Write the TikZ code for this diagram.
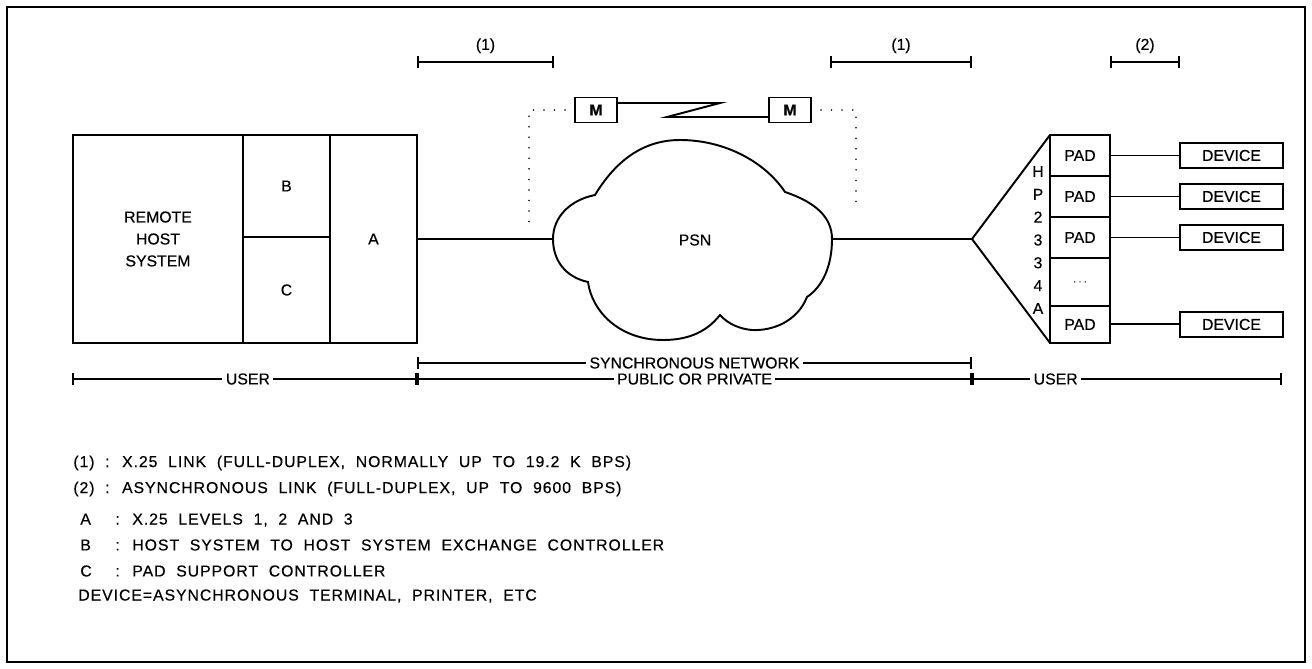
\documentclass[tikz,border=0pt]{standalone}
\usepackage{fontspec}
\setmainfont{Liberation Sans}[FakeBold=0.4]
\newfontfamily\notefont{Liberation Sans}[LetterSpace=6.0, WordSpace=2.0, FakeBold=0.4]
\usetikzlibrary{positioning, arrows.meta, calc}

\begin{document}
\begin{tikzpicture}[x=0.02cm, y=-0.02cm,
    every node/.style={font=\fontsize{9}{12.5}\selectfont},
    box/.style={draw, line width=1.1pt, inner sep=0pt, outer sep=0pt, align=center},
    padbox/.style={box, minimum width=1.2cm},
    devbox/.style={box, minimum width=2.06cm, minimum height=0.5cm},
    modem/.style={box, minimum width=0.84cm, minimum height=0.5cm, font=\fontsize{9}{10}\selectfont\bfseries},
    link/.style={line width=1.1pt},
    span/.style={line width=1.1pt, {Bar[width=7pt]}-{Bar[width=7pt]}},
    spanlbl/.style={fill=white, inner xsep=2pt, inner ysep=0pt},
    dots/.style={line width=1pt, line cap=round, dash pattern=on 0pt off 6pt},
    note/.style={anchor=west, inner sep=0pt, font=\notefont\fontsize{9}{11}\selectfont}
]
\useasboundingbox (0,0) rectangle (1312,669);
\draw[line width=1.1pt] (7,7) rectangle (1305,662);

% Host side
\node[box, minimum width=3.4cm, minimum height=4.16cm] (host) at (158,239) {REMOTE\\HOST\\SYSTEM};
\node[box, minimum width=1.74cm, minimum height=2.04cm, anchor=north west] (ctlb) at (host.north east) {B};
\node[box, minimum width=1.74cm, minimum height=2.12cm, below=0pt of ctlb] (ctlc) {C};
\node[box, minimum width=1.74cm, minimum height=4.16cm, anchor=north west] (lvla) at (ctlb.north east) {A};

% Modems
\node[modem] (mdm1) at (596,110) {M};
\node[modem] (mdm2) at (790,110) {M};
\draw[link] ($(mdm1.east)+(0,-7)$) -- (720,103) -- (667,117) -- ($(mdm2.west)+(0,7)$);
\draw[dots] ($(mdm1.west)+(-10,0)$) -- (529,110) -- (529,228);
\draw[dots] ($(mdm2.east)+(10,0)$) -- (856,110) -- (856,212);

% PSN cloud
\coordinate (cw) at (553,239);
\coordinate (ce) at (832,239);
\draw[link] (cw) .. controls (553,217) and (570,200) .. (595,195)
  .. controls (615,162) and (642,140) .. (680,140)
  .. controls (725,140) and (765,162) .. (785,192)
  .. controls (815,202) and (832,217) .. (ce)
  .. controls (832,267) and (822,287) .. (807,297)
  .. controls (797,322) and (772,331) .. (752,330)
  .. controls (740,329) and (728,324) .. (720,315)
  .. controls (705,334) and (685,340) .. (663,340)
  .. controls (620,340) and (592,312) .. (588,282)
  .. controls (565,277) and (553,260) .. (cw);
\node (psn) at (695,240) {PSN};

% HP2334A
\node[padbox, minimum height=0.82cm, anchor=north west] (pad1) at (1050,135) {PAD};
\node[padbox, minimum height=0.82cm, below=0pt of pad1] (pad2) {PAD};
\node[padbox, minimum height=0.82cm, below=0pt of pad2] (pad3) {PAD};
\node[padbox, minimum height=0.96cm, below=0pt of pad3, font=\fontsize{5}{5}\selectfont] (padx) {.\,\,.\,\,.};
\node[padbox, minimum height=0.74cm, below=0pt of padx] (pad4) {PAD};
\coordinate (apex) at (972,239);
\draw[link] (pad1.north west) -- (apex) -- (pad4.south west);
\node[inner sep=0pt, align=center, font=\fontsize{9}{13}\selectfont] (hpname) at (1038,240) {H\\P\\2\\3\\3\\4\\A};

\node[devbox, right=1.4cm of pad1] (dev1) {DEVICE};
\node[devbox, right=1.4cm of pad2] (dev2) {DEVICE};
\node[devbox, right=1.4cm of pad3] (dev3) {DEVICE};
\node[devbox, right=1.4cm of pad4] (dev4) {DEVICE};

\draw[link] (lvla.east) -- (cw);
\draw[link] (ce) -- (apex);
\draw[link] (pad1) -- (dev1);
\draw[link] (pad2) -- (dev2);
\draw[link] (pad3) -- (dev3);
\draw[link] (pad4) -- (dev4);

% Link spans
\coordinate (lk1a) at (417,62);
\coordinate (lk1b) at (554,62);
\coordinate (lk2a) at (830,62);
\coordinate (lk2b) at (972,62);
\coordinate (lk3a) at (1110,62);
\coordinate (lk3b) at (1180,62);
\draw[span] (lk1a) -- node[above=4.5pt, inner sep=0pt] (lk1lbl) {(1)} (lk1b);
\draw[span] (lk2a) -- node[above=4.5pt, inner sep=0pt] (lk2lbl) {(1)} (lk2b);
\draw[span] (lk3a) -- node[above=4.5pt, inner sep=0pt] (lk3lbl) {(2)} (lk3b);

% Zones
\coordinate (sn1) at (417,363);
\coordinate (sn2) at (972,363);
\coordinate (zn0) at (72,379);
\coordinate (zn1) at (417,379);
\coordinate (zn2) at (972,379);
\coordinate (zn3) at (1282,379);
\draw[span] (sn1) -- node[spanlbl] (synclbl) {SYNCHRONOUS NETWORK} (sn2);
\draw[span] (zn0) -- node[spanlbl, pos=0.51] (user1) {USER} (zn1);
\draw[span] (zn1) -- node[spanlbl] (publbl) {PUBLIC OR PRIVATE} (zn2);
\draw[span] (zn2) -- node[spanlbl, pos=0.27] (user2) {USER} (zn3);

% Legend
\node[note] (note1) at (73,463) {(1) : X.25 LINK (FULL-DUPLEX, NORMALLY UP TO 19.2 K BPS)};
\node[note] (note2) at (73,489) {(2) : ASYNCHRONOUS LINK (FULL-DUPLEX, UP TO 9600 BPS)};
\node[note] (note3) at (80,520) {\makebox[20pt][l]{A}: X.25 LEVELS 1, 2 AND 3};
\node[note] (note4) at (80,545) {\makebox[20pt][l]{B}: HOST SYSTEM TO HOST SYSTEM EXCHANGE CONTROLLER};
\node[note] (note5) at (80,571) {\makebox[20pt][l]{C}: PAD SUPPORT CONTROLLER};
\node[note] (note6) at (78,596) {DEVICE=ASYNCHRONOUS TERMINAL, PRINTER, ETC};

\end{tikzpicture}
\end{document}
